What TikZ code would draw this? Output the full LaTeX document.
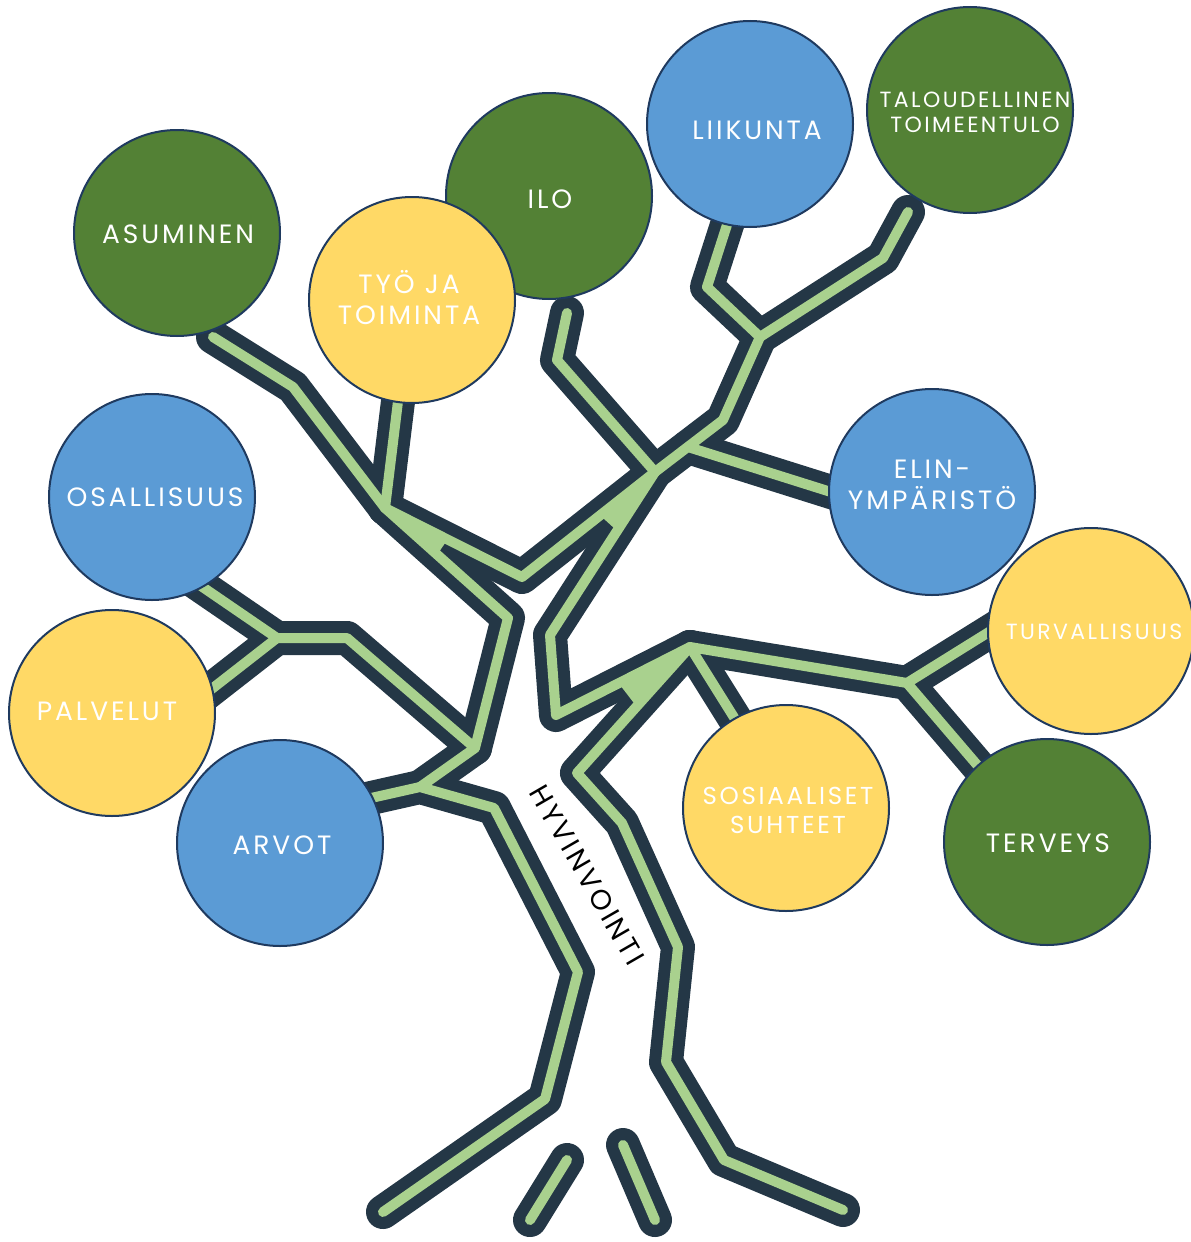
\documentclass[tikz,border=0pt]{standalone}
\usepackage{fontspec}
\usetikzlibrary{calc}
\newfontfamily\labelfont{Poppins}[LetterSpace=11]
\definecolor{treedark}{HTML}{243746}
\definecolor{treegreen}{HTML}{A9D18E}
\definecolor{cgreen}{HTML}{538135}
\definecolor{cblue}{HTML}{5B9BD5}
\definecolor{cyellow}{HTML}{FFD966}
\definecolor{cedge}{HTML}{1F3A5F}
\newcommand{\treepaths}[1]{%
  \draw[#1] (rootL) -- (kL1) -- (kL2) -- (kL3) -- (jArv) -- (eArv);
  \draw[#1] (jArv) -- (jOPt) -- (kL4) -- (jL);
  \draw[#1] (jOPt) -- (kOP) -- (jOP) -- (eOsa);
  \draw[#1] (jOP) -- (ePalv);
  \draw[#1] (jL) -- (kAsu) -- (eAsu);
  \draw[#1] (jL) -- (eTyo);
  \draw[#1] (jL) -- (kM) -- (jA);
  \draw[#1] (jA) -- (kIlo) -- (eIlo);
  \draw[#1] (jA) -- (kT1) -- (jB) -- (kLiik) -- (eLiik);
  \draw[#1] (jB) -- (kTal) -- (eTal);
  \draw[#1] (jElin) -- (eElin);
  \draw[#1] (jA) -- (kR1) -- (kR2) -- (jC) -- (jD) -- (eTurv);
  \draw[#1] (jD) -- (eTerv);
  \draw[#1] (jC) -- (eSos);
  \draw[#1] (jC) -- (kR3) -- (kR4) -- (kR5) -- (kR6) -- (kR7) -- (rootR);
  \draw[#1] (sA1) -- (sA2);
  \draw[#1] (sB1) -- (sB2);
}
\tikzset{
  branchdark/.style={draw=treedark, line width=34pt, line cap=round, line join=round},
  branchlite/.style={draw=treegreen, line width=10pt, line cap=round, line join=round},
  circ/.style={circle, minimum size=206pt, inner sep=0pt, draw=cedge, line width=2pt},
  lbl/.style={text=white, align=center, inner sep=0pt, font=\labelfont\fontsize{26.5}{31}\selectfont},
  lblsmall/.style={text=white, align=center, inner sep=0pt, font=\labelfont\fontsize{22}{25}\selectfont},
}
\begin{document}
\begin{tikzpicture}[x=1pt,y=-1pt]
\useasboundingbox (0,0) rectangle (1191,1242);
% junctions and bends
\coordinate (rootL) at (383,1212);
\coordinate (kL1) at (545,1099);
\coordinate (kL2) at (578,972);
\coordinate (kL3) at (494,808);
\coordinate (jArv) at (420,787);
\coordinate (eArv) at (340,805);
\coordinate (jOPt) at (475,748);
\coordinate (kL4) at (508,618);
\coordinate (jL) at (385,508);
\coordinate (kOP) at (347,638);
\coordinate (jOP) at (277,638);
\coordinate (eOsa) at (185,575);
\coordinate (ePalv) at (195,702);
\coordinate (kAsu) at (293,387);
\coordinate (eAsu) at (213,337);
\coordinate (eTyo) at (400,385);
\coordinate (kM) at (522,577);
\coordinate (jA) at (655,472);
\coordinate (kIlo) at (557,360);
\coordinate (eIlo) at (567,313);
\coordinate (kT1) at (723,420);
\coordinate (jB) at (760,337);
\coordinate (kLiik) at (707,287);
\coordinate (eLiik) at (735,200);
\coordinate (kTal) at (883,258);
\coordinate (eTal) at (908,212);
\coordinate (jElin) at (688,447);
\coordinate (eElin) at (850,498);
\coordinate (kR1) at (550,635);
\coordinate (kR2) at (556,715);
\coordinate (jC) at (690,647);
\coordinate (jD) at (907,683);
\coordinate (eTurv) at (1005,622);
\coordinate (eTerv) at (990,780);
\coordinate (eSos) at (745,735);
\coordinate (kR3) at (577,773);
\coordinate (kR4) at (622,823);
\coordinate (kR5) at (678,947);
\coordinate (kR6) at (666,1062);
\coordinate (kR7) at (724,1160);
\coordinate (rootR) at (843,1210);
\coordinate (sA1) at (530,1220);
\coordinate (sA2) at (567,1160);
\coordinate (sB1) at (623,1145);
\coordinate (sB2) at (655,1220);
% tree
\treepaths{branchdark}
\treepaths{branchlite}
\fill[treegreen] (jL) -- ($(jL)!70pt!(kM)$) -- ($(jL)!70pt!(kL4)$) -- cycle;
\fill[treegreen] (jA) -- ($(jA)!70pt!(kM)$) -- ($(jA)!70pt!(kR1)$) -- cycle;
\fill[treegreen] (jC) -- ($(jC)!80pt!(kR2)$) -- ($(jC)!80pt!(kR3)$) -- cycle;
% circles
\node[circ, fill=cgreen] (asu) at (177,233) {};
\node[circ, fill=cgreen] (ilo) at (549,196) {};
\node[circ, fill=cblue] (liik) at (750,124) {};
\node[circ, fill=cgreen] (tal) at (970,110) {};
\node[circ, fill=cyellow] (tyo) at (412,300) {};
\node[circ, fill=cblue] (osa) at (152,497) {};
\node[circ, fill=cblue] (elin) at (932,492) {};
\node[circ, fill=cyellow] (turv) at (1091,631) {};
\node[circ, fill=cyellow] (palv) at (112,713) {};
\node[circ, fill=cblue] (arvot) at (280,843) {};
\node[circ, fill=cyellow] (sos) at (786,808) {};
\node[circ, fill=cgreen] (terv) at (1047,842) {};
% labels
\node[lbl] (tasu) at (178,234) {ASUMINEN};
\node[lbl] (tilo) at (550,199) {ILO};
\node[lbl] (tliik) at (757,130) {LIIKUNTA};
\node[lblsmall] (ttal) at (975,112) {TALOUDELLINEN\\TOIMEENTULO};
\node[lbl] (ttyo) at (409,298) {TYÖ JA\\TOIMINTA};
\node[lbl] (tosa) at (155,497) {OSALLISUUS};
\node[lbl] (telin) at (932,485) {ELIN-\\YMPÄRISTÖ};
\node[lblsmall] (tturv) at (1094,632) {TURVALLISUUS};
\node[lbl] (tpalv) at (107,711) {PALVELUT};
\node[lbl] (tarv) at (282,845) {ARVOT};
\node[lbl, font=\labelfont\fontsize{24.5}{29}\selectfont] (tsos) at (788,810) {SOSIAALISET\\SUHTEET};
\node[lbl] (tterv) at (1048,843) {TERVEYS};
\node[lbl, text=black, rotate=-60, font=\labelfont\fontsize{28}{30}\selectfont] (thyv) at (587,875) {HYVINVOINTI};
\end{tikzpicture}
\end{document}
